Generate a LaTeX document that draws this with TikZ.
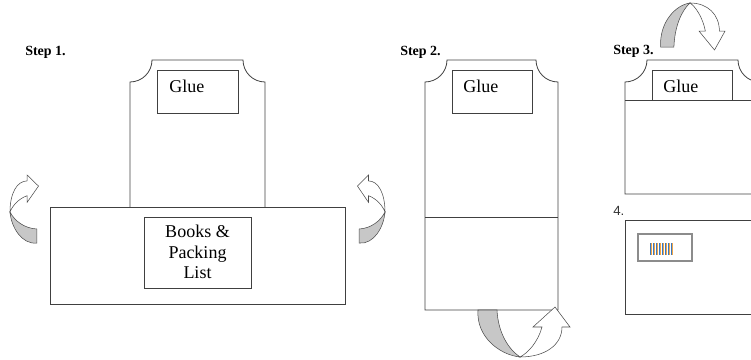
\documentclass[tikz,border=0pt]{standalone}
\usepackage{fontspec}
\setmainfont{Liberation Serif}
\newfontfamily\numfont{Liberation Sans}
\definecolor{barblue}{RGB}{60,120,190}
\definecolor{barorange}{RGB}{240,165,70}

\tikzset{
  panel/.style={draw=black!75, line width=0.6pt},
  steptext/.style={anchor=base west, inner sep=0pt, font=\bfseries\fontsize{10.5}{12}\selectfont},
  gluetext/.style={anchor=base west, inner sep=0pt, font=\fontsize{13.5}{16}\selectfont},
  foldback/.style={fill=black!22, draw=black!70, line width=0.4pt},
  foldfront/.style={fill=white, draw=black!70, line width=0.4pt},
}

\newcommand{\foldarrow}{%
  \draw[foldback] (-42,47) .. controls (-44,20) and (-20,2) .. (0,0)
    .. controls (-12,8) and (-22,25) .. (-23,47) -- cycle;
  \draw[foldfront] (0,0) .. controls (25,0) and (42,12) .. (42,30)
    -- (50,30) -- (35,50) -- (13,30) -- (22,30)
    .. controls (18,15) and (8,4) .. (0,0) -- cycle;
}

\begin{document}
\begin{tikzpicture}[x=0.75pt, y=0.75pt]
\useasboundingbox (0,0) rectangle (751,360);
\clip (0,0) rectangle (751,360);

\node[steptext] (step1) at (25,304) {Step 1.};
\node[steptext] (step2) at (400,304) {Step 2.};
\node[steptext] (step3) at (613,305) {Step 3.};
\node[anchor=base west, inner sep=0pt, text=black!80, font=\numfont\fontsize{10}{12}\selectfont] (step4) at (613,144) {4.};

% step 1
\draw[panel] (130,153) -- (130,278) arc[start angle=-90, end angle=0, radius=22]
  -- (243,300) arc[start angle=180, end angle=270, radius=22] -- (265,153);
\draw[panel] (157,247) rectangle (238,290);
\node[gluetext] (glue1) at (169,267) {Glue};
\draw[panel] (50,56) rectangle (345,153);
\draw[panel] (144,72) rectangle (251,143);
\node[align=center, inner sep=0pt, font=\fontsize{13.5}{15.5}\selectfont] (books) at (197.5,108) {Books \&\\Packing\\List};
\begin{scope}[shift={(10,148)}, yscale=-1, rotate=-90, xscale=0.74, yscale=0.57]
\foldarrow
\end{scope}
\begin{scope}[shift={(385,148)}, xscale=-1, yscale=-1, rotate=-90, xscale=0.74, yscale=0.55]
\foldarrow
\end{scope}

% step 2
\draw[panel] (425,50) -- (425,278) arc[start angle=-90, end angle=0, radius=22]
  -- (536,300) arc[start angle=180, end angle=270, radius=22] -- (558,50) -- cycle;
\draw[panel] (425,143) -- (558,143);
\draw[panel] (452,247) rectangle (532,290);
\node[gluetext] (glue2) at (463,267) {Glue};
\begin{scope}[shift={(520,3)}]
\foldarrow
\end{scope}

% step 3
\draw[panel] (625,166) -- (625,278) arc[start angle=-90, end angle=0, radius=22]
  -- (738,300) arc[start angle=180, end angle=270, radius=22] -- (760,166) -- cycle;
\draw[panel] (625,260) -- (760,260);
\draw[panel] (652,260) -- (652,290) -- (732,290) -- (732,260);
\node[gluetext] (glue3) at (663,267) {Glue};
\begin{scope}[shift={(690,357)}, xscale=0.7, yscale=-0.94]
\foldarrow
\end{scope}

% step 4
\draw[panel] (625,46) rectangle (760,140);
\draw[draw=black!45, line width=0.9pt] (638,99) rectangle (692,126);
\foreach \i in {0,...,7} {
  \draw[barblue, line width=0.5pt] (650+3*\i,105) -- ++(0,12);
  \draw[barorange, line width=0.5pt] (651+3*\i,105) -- ++(0,12);
}
\end{tikzpicture}
\end{document}
